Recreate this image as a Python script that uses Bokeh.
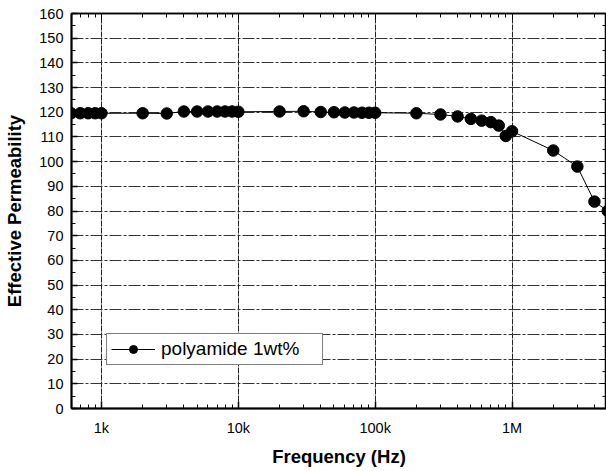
from bokeh.plotting import figure
from bokeh.embed import file_html
from bokeh.resources import INLINE
from bokeh.models import (FixedTicker, SingleIntervalTicker, LogAxis, LinearAxis,
                          CustomJSTickFormatter)

# ---- data ----
freq_hz = [600, 700, 800, 900, 1e3, 2e3, 3e3, 4e3, 5e3, 6e3, 7e3, 8e3, 9e3, 1e4,
           2e4, 3e4, 4e4, 5e4, 6e4, 7e4, 8e4, 9e4, 1e5,
           2e5, 3e5, 4e5, 5e5, 6e5, 7e5, 8e5, 9e5, 1e6,
           2e6, 3e6, 4e6, 5e6]
permeability = [119.6, 119.6, 119.6, 119.6, 119.6, 119.6, 119.5, 120.3, 120.3, 120.3,
                120.3, 120.3, 120.3, 120.2,
                120.3, 120.4, 120.1, 120.0, 119.9, 119.9, 119.8, 119.8, 119.8,
                119.6, 119.1, 118.3, 117.3, 116.6, 116.0, 114.6, 110.4, 112.3,
                104.5, 98.0, 83.8, 80.0]
series_name = "polyamide 1wt%"
x_major_ticks = [1e3, 1e4, 1e5, 1e6]
x_tick_labels = {1000: "1k", 10000: "10k", 100000: "100k", 1000000: "1M"}
x_title = "Frequency (Hz)"
y_title = "Effective Permeability"

FONT = "Liberation Sans"

x_minor = [m * d for d in [100, 1e3, 1e4, 1e5, 1e6] for m in range(2, 10)]

p = figure(width=606, height=471, x_axis_type="log",
           x_range=(604, 4.9e6), y_range=(0, 160),
           output_backend="svg", toolbar_location=None,
           min_border_left=71, min_border_right=0, min_border_top=13,
           min_border_bottom=63)
p.background_fill_color = "white"
p.border_fill_color = "white"
p.outline_line_color = "black"
p.outline_line_width = 1.5

xticker = FixedTicker(ticks=x_major_ticks, minor_ticks=x_minor)
yticker = SingleIntervalTicker(interval=10, num_minor_ticks=2)

# bottom axis
xa = p.xaxis[0]
xa.ticker = xticker
xa.major_label_overrides = x_tick_labels
xa.axis_label = x_title
xa.axis_label_text_font = FONT
xa.axis_label_text_font_style = "bold"
xa.axis_label_text_font_size = "18.5px"
xa.axis_label_text_color = "black"
xa.major_label_text_font = FONT
xa.major_label_text_font_size = "14.5px"
xa.major_label_text_color = "black"
xa.major_tick_out = 0
xa.major_tick_in = 7
xa.minor_tick_out = 0
xa.minor_tick_in = 4
xa.axis_line_width = 2
xa.major_tick_line_width = 1.5
xa.major_label_standoff = 11
xa.axis_label_standoff = 7

# left axis
ya = p.yaxis[0]
ya.ticker = yticker
ya.axis_label = y_title
ya.axis_label_text_font = FONT
ya.axis_label_text_font_style = "bold"
ya.axis_label_text_font_size = "18.5px"
ya.axis_label_text_color = "black"
ya.major_label_text_font = FONT
ya.major_label_text_font_size = "14.5px"
ya.major_label_text_color = "black"
ya.major_tick_out = 0
ya.major_tick_in = 6
ya.minor_tick_out = 0
ya.minor_tick_in = 4
ya.axis_line_width = 2
ya.major_tick_line_width = 1.5
ya.major_label_standoff = 8
ya.axis_label_standoff = 11

blank = CustomJSTickFormatter(code="return ''")

top = LogAxis(ticker=xticker, formatter=blank, major_tick_out=0, major_tick_in=6,
              minor_tick_out=0, minor_tick_in=4, major_label_standoff=0,
              major_label_text_font_size="0px", axis_line_width=1.5)
p.add_layout(top, "above")
right = LinearAxis(ticker=yticker, formatter=blank, major_tick_out=0, major_tick_in=6,
                   minor_tick_out=0, minor_tick_in=4, major_label_standoff=0,
                   major_label_text_font_size="0px", axis_line_width=1.5)
p.add_layout(right, "right")

# grids
p.xgrid.ticker = xticker
p.xgrid.grid_line_color = "#222222"
p.xgrid.grid_line_dash = "6 1"
p.xgrid.grid_line_width = 1
p.ygrid.ticker = SingleIntervalTicker(interval=10)
p.ygrid.grid_line_color = "#333333"
p.ygrid.grid_line_dash = "12 2 3 2"
p.ygrid.grid_line_width = 1

p.line(freq_hz, permeability, line_color="black", line_width=1, legend_label=series_name)
p.scatter(freq_hz, permeability, size=11.5, fill_color="black", line_color="black",
          legend_label=series_name)

lg = p.legend[0]
lg.location = (35, 43)
lg.label_text_font = FONT
lg.label_text_font_size = "19px"
lg.label_text_color = "black"
lg.border_line_color = "black"
lg.border_line_width = 1
lg.background_fill_alpha = 1
lg.glyph_width = 44
lg.glyph_height = 20
lg.padding = 4
lg.margin = 0
lg.label_standoff = 6
lg.label_width = 157

open("out.html", "w").write(file_html(p, INLINE))
